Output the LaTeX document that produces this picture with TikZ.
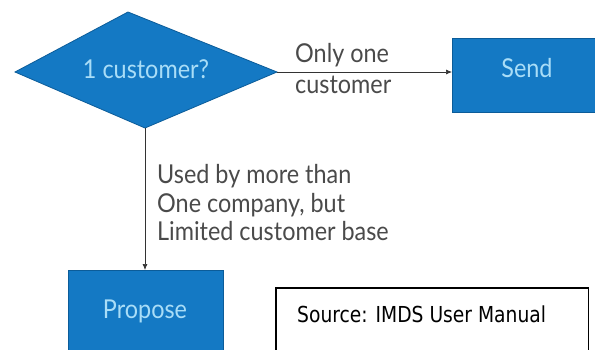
\documentclass[tikz,border=0pt]{standalone}
\usepackage{fontspec}
\usepackage{graphicx}
\usetikzlibrary{arrows.meta}
\setmainfont{Lato}
\newfontfamily\srcfont{DejaVu Sans}
\definecolor{hpblue}{HTML}{1479C4}
\definecolor{hpedge}{HTML}{0B5C99}
\definecolor{hptext}{HTML}{A9DDF7}
\definecolor{lbl}{HTML}{4A4A4A}
\newcommand{\nar}[1]{\scalebox{0.9}[1]{#1}}
\begin{document}
\begin{tikzpicture}[x=1pt,y=-1pt,
  blk/.style={fill=hpblue,draw=hpedge,line width=0.8pt},
  txt/.style={text=hptext,font=\fontsize{26}{29}\selectfont,anchor=base,inner sep=0pt},
  lab/.style={text=lbl,font=\fontsize{26}{29}\selectfont,anchor=base west,inner sep=0pt},
  conn/.style={draw=black!80,line width=0.7pt,-{Latex[length=6pt,width=5pt]}}]
\useasboundingbox (0,0) rectangle (595,349);
\fill[white] (0,0) rectangle (595,349);
% diamond
\coordinate (dl) at (15,72);
\coordinate (dt) at (128,12);
\coordinate (dr) at (277,72);
\coordinate (db) at (145,128);
\filldraw[blk] (dl) -- (dt) -- (dr) -- (db) -- cycle;
\node[txt] (q) at (146,78) {\nar{1 customer?}};
% send
\node[blk,minimum width=150pt,minimum height=74pt,anchor=north west,inner sep=0pt] (send) at (452,38) {};
\node[txt] (sendt) at (527,77) {\nar{Send}};
% propose
\node[blk,minimum width=155pt,minimum height=90pt,anchor=north west,inner sep=0pt] (prop) at (68,270) {};
\node[txt] (propt) at (145,318) {\nar{Propose}};
% source
\draw[black,line width=1.4pt] (276,360) coordinate (s1) -- (276,288) coordinate (s2) -- (588.5,288) coordinate (s3) -- (588.5,360) coordinate (s4);
\node[anchor=base west,font=\srcfont\fontsize{22}{26}\selectfont,inner sep=0pt] (srct) at (297,322) {\scalebox{0.85}[1]{Source: IMDS User Manual}};
% connectors
\draw[conn] (dr) -- (send.west |- dr);
\draw[conn] (db) -- (db |- prop.north);
% labels
\node[lab] (l1a) at (295,62) {\nar{Only one}};
\node[lab] (l1b) at (295,93) {\nar{customer}};
\node[lab] (l2a) at (157,183) {\nar{Used by more than}};
\node[lab] (l2b) at (157,212) {\nar{One company, but}};
\node[lab] (l2c) at (157,240) {\nar{Limited customer base}};
\end{tikzpicture}
\end{document}
